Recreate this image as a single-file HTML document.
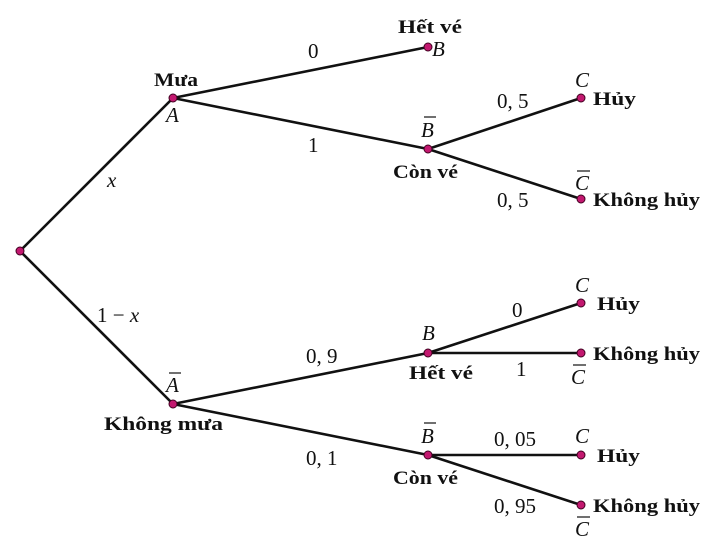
<!DOCTYPE html>
<html><head><meta charset="utf-8"><style>
html,body{margin:0;padding:0;background:#fff;}
svg{display:block;}
.b{font-family:"Liberation Serif",serif;font-weight:bold;font-size:19px;fill:#111;}
.m{font-family:"Liberation Serif",serif;font-style:italic;font-size:21px;fill:#111;}
.n{font-family:"Liberation Serif",serif;font-size:21px;fill:#111;}
line{stroke:#111;stroke-width:2.6;}
circle{fill:#c2186f;stroke:#400020;stroke-width:1;}
</style></head><body>
<svg width="708" height="551" viewBox="0 0 708 551">
<line x1="20" y1="251" x2="173" y2="98"/>
<line x1="20" y1="251" x2="173" y2="404"/>
<line x1="173" y1="98" x2="428" y2="47"/>
<line x1="173" y1="98" x2="428" y2="149"/>
<line x1="428" y1="149" x2="581" y2="98"/>
<line x1="428" y1="149" x2="581" y2="199"/>
<line x1="173" y1="404" x2="428" y2="353"/>
<line x1="173" y1="404" x2="428" y2="455"/>
<line x1="428" y1="353" x2="581" y2="303"/>
<line x1="428" y1="353" x2="581" y2="353"/>
<line x1="428" y1="455" x2="581" y2="455"/>
<line x1="428" y1="455" x2="581" y2="505"/>
<circle cx="20" cy="251" r="4"/><circle cx="173" cy="98" r="4"/><circle cx="173" cy="404" r="4"/>
<circle cx="428" cy="47" r="4"/><circle cx="428" cy="149" r="4"/><circle cx="428" cy="353" r="4"/><circle cx="428" cy="455" r="4"/>
<circle cx="581" cy="98" r="4"/><circle cx="581" cy="199" r="4"/><circle cx="581" cy="303" r="4"/><circle cx="581" cy="353" r="4"/><circle cx="581" cy="455" r="4"/><circle cx="581" cy="505" r="4"/>
<text class="b" x="154" y="86" textLength="44" lengthAdjust="spacingAndGlyphs">Mưa</text>
<text class="m" x="166" y="122">A</text>
<text class="m" x="107" y="187">x</text>
<text class="n" x="97" y="322">1 − <tspan font-style="italic">x</tspan></text>
<text class="n" x="308" y="58">0</text>
<text class="n" x="308" y="152">1</text>
<text class="b" x="398" y="33" textLength="64" lengthAdjust="spacingAndGlyphs">Hết vé</text>
<text class="m" x="432" y="56">B</text>
<text class="m" x="421" y="137">B</text><line x1="424" y1="117" x2="436" y2="117" style="stroke-width:1.2"/>
<text class="b" x="393" y="178" textLength="65" lengthAdjust="spacingAndGlyphs">Còn vé</text>
<text class="n" x="497" y="108">0, 5</text>
<text class="n" x="497" y="207">0, 5</text>
<text class="m" x="575" y="87">C</text>
<text class="b" x="593" y="105" textLength="43" lengthAdjust="spacingAndGlyphs">Hủy</text>
<text class="m" x="575" y="190">C</text><line x1="577" y1="171" x2="590" y2="171" style="stroke-width:1.2"/>
<text class="b" x="593" y="206" textLength="107" lengthAdjust="spacingAndGlyphs">Không hủy</text>
<text class="m" x="166" y="392">A</text><line x1="169" y1="373" x2="181" y2="373" style="stroke-width:1.2"/>
<text class="b" x="104" y="430" textLength="119" lengthAdjust="spacingAndGlyphs">Không mưa</text>
<text class="n" x="306" y="363">0, 9</text>
<text class="n" x="306" y="465">0, 1</text>
<text class="m" x="422" y="340">B</text>
<text class="b" x="409" y="379" textLength="64" lengthAdjust="spacingAndGlyphs">Hết vé</text>
<text class="n" x="512" y="317">0</text>
<text class="n" x="516" y="376">1</text>
<text class="m" x="575" y="292">C</text>
<text class="b" x="597" y="310" textLength="43" lengthAdjust="spacingAndGlyphs">Hủy</text>
<text class="b" x="593" y="360" textLength="107" lengthAdjust="spacingAndGlyphs">Không hủy</text>
<text class="m" x="571" y="384">C</text><line x1="573" y1="365" x2="586" y2="365" style="stroke-width:1.2"/>
<text class="m" x="421" y="443">B</text><line x1="424" y1="423" x2="436" y2="423" style="stroke-width:1.2"/>
<text class="b" x="393" y="484" textLength="65" lengthAdjust="spacingAndGlyphs">Còn vé</text>
<text class="n" x="494" y="446">0, 05</text>
<text class="n" x="494" y="513">0, 95</text>
<text class="m" x="575" y="443">C</text>
<text class="b" x="597" y="462" textLength="43" lengthAdjust="spacingAndGlyphs">Hủy</text>
<text class="b" x="593" y="512" textLength="107" lengthAdjust="spacingAndGlyphs">Không hủy</text>
<text class="m" x="575" y="536">C</text><line x1="577" y1="517" x2="590" y2="517" style="stroke-width:1.2"/>
</svg>
</body></html>
